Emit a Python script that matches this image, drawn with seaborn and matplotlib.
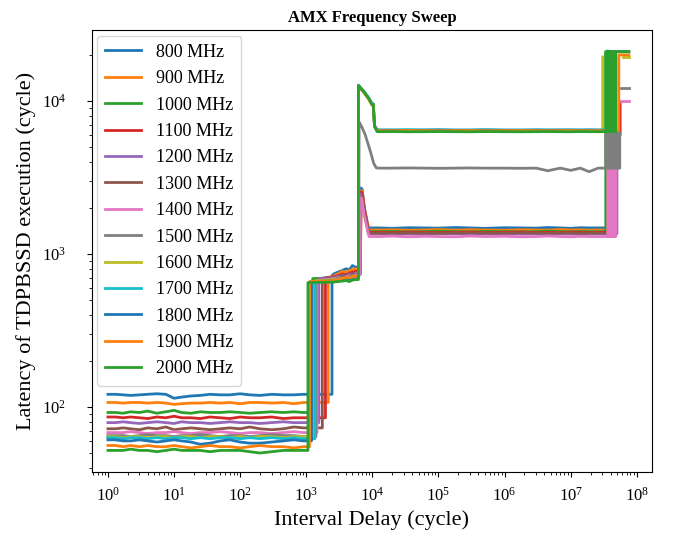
import matplotlib
matplotlib.use("Agg")
import matplotlib.pyplot as plt
import seaborn as sns
import pandas as pd

plt.rcParams.update({
    'font.family': ['Liberation Serif', 'DejaVu Serif'],
    'mathtext.fontset': 'stix',
    'font.size': 12,
    'axes.labelsize': 16,
    'axes.titlesize': 12,
    'xtick.labelsize': 12,
    'ytick.labelsize': 12,
    'legend.fontsize': 13,
})

# ----------------------------------------------------------------------
# Data
# ----------------------------------------------------------------------
FREQS = [800, 900, 1000, 1100, 1200, 1300, 1400, 1500, 1600, 1700, 1800, 1900, 2000]
LABELS = [f"{f} MHz" for f in FREQS]
COLORS = ["#1f77b4", "#ff7f0e", "#2ca02c", "#d62728", "#9467bd", "#8c564b", "#e377c2",
          "#7f7f7f", "#bcbd22", "#17becf", "#1f77b4", "#ff7f0e", "#2ca02c"]

# short delays: latency per frequency (cycle)
X_LOW = [1, 1.3, 1.7, 2.2, 3, 4, 5.5, 7.5, 10, 13, 18, 25, 35, 50, 70, 100, 140, 200, 300, 450, 650, 900]
LOW_Y = [
    [121, 121, 120, 119, 120, 121, 122, 121, 114, 116, 118, 119, 121, 120, 120, 122, 120, 119, 121, 120, 120, 121],
    [107, 107, 106, 107, 107, 106, 107, 106, 104, 105, 106, 106, 107, 106, 107, 105, 107, 107, 106, 107, 105, 107],
    [92, 92, 91, 93, 92, 94, 91, 93, 95, 92, 91, 93, 92, 92, 93, 92, 91, 92, 93, 92, 93, 92],
    [86, 86, 85, 86, 85, 84, 86, 85, 87, 85, 85, 84, 86, 85, 84, 86, 85, 85, 86, 84, 85, 85],
    [79, 79, 80, 79, 78, 79, 80, 79, 78, 80, 79, 79, 78, 79, 80, 79, 79, 78, 79, 80, 79, 79],
    [72, 72, 73, 72, 71, 73, 72, 74, 71, 72, 73, 72, 71, 72, 73, 72, 74, 72, 71, 72, 74, 73],
    [68, 68, 68, 69, 68, 67, 68, 68, 69, 68, 67, 68, 68, 69, 68, 67, 68, 68, 67, 68, 69, 68],
    [65, 65, 65, 64, 65, 66, 65, 65, 64, 65, 65, 66, 65, 64, 65, 65, 64, 65, 66, 65, 65, 64],
    [64, 64, 63, 64, 64, 63, 64, 64, 63, 64, 64, 63, 64, 64, 63, 64, 63, 64, 64, 63, 64, 64],
    [63, 63, 62, 63, 63, 62, 63, 62, 63, 63, 62, 63, 62, 63, 63, 62, 63, 62, 63, 62, 63, 62],
    [61, 61, 60, 60, 61, 60, 59, 60, 61, 60, 59, 57, 58, 60, 61, 59, 58, 58, 59, 60, 61, 60],
    [56, 56, 55, 56, 55, 56, 55, 55, 56, 55, 54, 55, 56, 55, 55, 54, 55, 56, 55, 55, 54, 55],
    [52, 52, 52, 53, 52, 52, 51, 52, 53, 52, 52, 52, 51, 52, 52, 52, 51, 50, 51, 52, 52, 52],
]

# first jump (~1e3 cycles) up to the ~700 cycle plateau
RISE_X = [2450, 2150, 1250, 1950, 1550, 1750, 1450, 1400, 1300, 1350, 1200, 1120, 1060]
RISE_Y = [720, 700, 690, 700, 690, 680, 670, 670, 665, 660, 660, 660, 650]
X_MID = [2600, 3000, 3500, 4000, 4500, 5000, 5600]
MID_Y = [
    [740, 760, 780, 800, 790, 840, 820],
    [720, 740, 770, 760, 780, 790, 800],
    [700, 720, 710, 730, 740, 760, 750],
    [710, 720, 740, 730, 750, 760, 770],
    [705, 710, 725, 720, 740, 735, 750],
    [700, 700, 715, 730, 720, 740, 735],
    [690, 700, 690, 710, 720, 715, 730],
    [680, 690, 700, 695, 710, 720, 715],
    [680, 680, 695, 690, 700, 705, 710],
    [670, 685, 680, 690, 700, 695, 705],
    [665, 675, 680, 690, 685, 700, 700],
    [670, 680, 690, 700, 700, 710, 715],
    [655, 660, 665, 670, 660, 675, 680],
]

# second jump (~6e3 cycles): spike then settle
BURST_X = [
    [6600, 6700, 7000, 7500, 8700],
    [6600, 6750, 7050, 7600, 8800],
    [6500, 6650, 6950, 7500, 8600],
    [6600, 6700, 7000, 7600, 8800],
    [6550, 6650, 6950, 7550, 8700],
    [6550, 6700, 7000, 7600, 8800],
    [6500, 6600, 6900, 7500, 8900],
    [6200, 6300, 7000, 7800, 9300, 10500, 11500],
    [6150, 6150, 7400, 8800, 9900, 10300, 10800, 11800],
    [6150, 6150, 7400, 8800, 9900, 10300, 10800, 11800],
    [6150, 6150, 7400, 8800, 9900, 10300, 10800, 11800],
    [6150, 6150, 7400, 8800, 9900, 10300, 10800, 11800],
    [6150, 6150, 7400, 8800, 9900, 10300, 10800, 11800],
]
BURST_Y = [
    [820, 2700, 2650, 2050, 1480],
    [800, 2600, 2550, 1950, 1435],
    [750, 2500, 2450, 1900, 1400],
    [770, 2550, 2500, 1950, 1385],
    [750, 2450, 2400, 1900, 1355],
    [735, 2400, 2350, 1850, 1370],
    [730, 2350, 2300, 1800, 1300],
    [715, 7300, 6700, 6000, 4700, 3900, 3650],
    [710, 12500, 11400, 10300, 9400, 9450, 6800, 6400],
    [705, 12700, 11600, 10500, 9600, 9600, 6900, 6500],
    [700, 12600, 11500, 10400, 9500, 9500, 6850, 6450],
    [715, 12500, 11400, 10300, 9400, 9450, 6800, 6400],
    [680, 12600, 11500, 10400, 9450, 9500, 6800, 6300],
]

# long flat section
X_FLAT = [1.3e4, 2e4, 3.5e4, 6e4, 1e5, 1.8e5, 3e5, 5e5, 1e6, 1.8e6, 3e6, 4.5e6, 7e6, 1e7, 1.4e7, 1.9e7, 2.6e7]
FLAT_Y = [
    [1480, 1470, 1485, 1480, 1475, 1490, 1480, 1470, 1485, 1480, 1475, 1490, 1480, 1470, 1485, 1480, 1480],
    [1435, 1440, 1430, 1435, 1445, 1430, 1440, 1435, 1430, 1440, 1435, 1430, 1445, 1435, 1440, 1430, 1435],
    [1400, 1405, 1395, 1400, 1410, 1400, 1395, 1405, 1400, 1395, 1400, 1410, 1400, 1395, 1405, 1400, 1400],
    [1385, 1380, 1390, 1385, 1380, 1385, 1390, 1380, 1385, 1390, 1380, 1385, 1380, 1390, 1385, 1380, 1385],
    [1355, 1360, 1350, 1355, 1360, 1355, 1350, 1360, 1355, 1350, 1355, 1360, 1355, 1350, 1360, 1355, 1355],
    [1370, 1365, 1375, 1370, 1365, 1370, 1375, 1365, 1370, 1375, 1370, 1365, 1370, 1375, 1365, 1370, 1370],
    [1300, 1310, 1295, 1305, 1300, 1295, 1310, 1300, 1305, 1295, 1300, 1310, 1300, 1295, 1305, 1300, 1300],
    [3640, 3640, 3650, 3640, 3630, 3640, 3650, 3640, 3640, 3630, 3640, 3500, 3640, 3520, 3640, 3450, 3640],
    [6380, 6390, 6370, 6380, 6390, 6380, 6370, 6380, 6390, 6380, 6370, 6380, 6390, 6380, 6370, 6380, 6380],
    [6480, 6470, 6500, 6480, 6490, 6470, 6480, 6500, 6470, 6480, 6490, 6480, 6470, 6500, 6480, 6490, 6480],
    [6430, 6440, 6420, 6430, 6450, 6430, 6420, 6440, 6430, 6420, 6440, 6430, 6450, 6420, 6430, 6440, 6430],
    [6400, 6390, 6410, 6400, 6390, 6400, 6410, 6390, 6400, 6410, 6400, 6390, 6400, 6410, 6390, 6400, 6400],
    [6300, 6310, 6290, 6300, 6310, 6300, 6290, 6310, 6300, 6290, 6300, 6310, 6300, 6290, 6310, 6300, 6300],
]

# very long delays (>3e7): final jumps
END_X = [
    [3.63e7, 3.63e7],
    [4.0e7, 4.0e7],
    [3.39e7, 3.39e7, 7.57e7],
    [4.5e7, 4.5e7, 5.6e7, 5.6e7],
    [5.0e7, 5.0e7],
    [4.4e7, 4.4e7],
    [3.63e7, 3.63e7, 3.77e7, 3.77e7, 3.9e7, 3.9e7, 4.05e7, 4.05e7, 4.18e7, 4.18e7,
     4.33e7, 4.33e7, 4.48e7, 4.48e7, 4.64e7, 4.64e7, 4.81e7, 4.81e7],
    [3.39e7, 3.39e7, 3.5e7, 3.5e7, 3.63e7, 3.63e7, 3.77e7, 3.77e7, 3.9e7, 3.9e7, 4.05e7, 4.05e7,
     4.18e7, 4.18e7, 4.33e7, 4.33e7, 4.48e7, 4.48e7, 4.64e7, 4.64e7, 4.81e7, 4.81e7,
     4.97e7, 4.97e7, 5.15e7, 5.15e7, 5.34e7, 5.34e7, 5.52e7, 5.52e7],
    [3.05e7, 3.05e7],
    [3.63e7, 3.63e7, 7.57e7],
    [3.6e7, 3.6e7, 7.57e7],
    [5.34e7, 5.34e7, 7.57e7],
    [3.39e7, 3.39e7, 3.5e7, 3.5e7, 3.63e7, 3.63e7, 3.77e7, 3.77e7, 3.9e7, 3.9e7, 4.05e7, 4.05e7,
     4.18e7, 4.18e7, 4.33e7, 4.33e7, 4.48e7, 4.48e7, 4.64e7, 4.64e7, 4.81e7, 4.81e7, 7.57e7],
]
END_Y = [
    [1480, 5000],
    [1435, 5000],
    [1400, 21000, 21000],
    [1385, 6000, 6000, 9800],
    [1355, 3600],
    [1370, 3000],
    [1300, 5000, 5000, 1300, 1300, 5000, 5000, 1300, 1300,
     5000, 5000, 1300, 1300, 5000, 5000, 1300, 1300, 5000],
    [3640, 6200, 6200, 3640, 3640, 6200, 6200, 3640, 3640, 6200, 6200, 3640,
     3640, 6200, 6200, 3640, 3640, 6200, 6200, 3640, 3640, 6200,
     6200, 3640, 3640, 6200, 6200, 3640, 3640, 6200],
    [6380, 19400],
    [6480, 21200],
    [6430, 21000, 21000],
    [6400, 20000, 20000],
    [6300, 21000, 21000, 6300, 6300, 21000, 21000, 6300, 6300, 21000, 21000, 6300,
     6300, 21000, 21000, 6300, 6300, 21000, 21000, 6300, 6300, 21000, 21000],
]

# short detached pieces at the far right: (series index, x list, y list)
STUB_SERIES = [6, 7, 8]
STUB_X = [[5.72e7, 7.57e7], [5.72e7, 7.57e7], [6.1e7, 7.57e7]]
STUB_Y = [[9950, 9950], [12200, 12200], [19400, 19400]]

# ----------------------------------------------------------------------
# Build long table
# ----------------------------------------------------------------------
rows = []
for i, lab in enumerate(LABELS):
    xs = X_LOW + [RISE_X[i], RISE_X[i]] + X_MID + BURST_X[i] + X_FLAT + END_X[i]
    ys = LOW_Y[i] + [LOW_Y[i][-1], RISE_Y[i]] + MID_Y[i] + BURST_Y[i] + FLAT_Y[i] + END_Y[i]
    for x, y in zip(xs, ys):
        rows.append({"series": lab, "seg": f"{lab}-main", "x": x, "y": y})
for k, i in enumerate(STUB_SERIES):
    for x, y in zip(STUB_X[k], STUB_Y[k]):
        rows.append({"series": LABELS[i], "seg": f"{LABELS[i]}-stub", "x": x, "y": y})
df = pd.DataFrame(rows)

fig, ax = plt.subplots(figsize=(6.75, 5.4), dpi=100)
sns.lineplot(data=df, x="x", y="y", hue="series", hue_order=LABELS, palette=COLORS,
             units="seg", estimator=None, sort=False, linewidth=2, ax=ax)

ax.set_xscale("log")
ax.set_yscale("log")
ax.set_xlim(0.57, 1.7e8)
ax.set_ylim(37.6, 29000)
ax.set_xticks([10.0 ** k for k in range(0, 9)])
ax.tick_params(axis="x", which="major", pad=7)
ax.tick_params(axis="y", which="major", pad=15)

ax.set_xlabel("Interval Delay (cycle)")
ax.set_ylabel("Latency of TDPBSSD execution (cycle)")
ax.set_title("AMX Frequency Sweep", fontweight="bold")

handles, labels = ax.get_legend_handles_labels()
ax.legend(handles, labels, loc="upper left", fontsize=13, labelspacing=0.52,
          borderpad=0.45, borderaxespad=0.3)

fig.subplots_adjust(left=0.136, right=0.966, top=0.944, bottom=0.126)
fig.savefig("out.png", dpi=100)
